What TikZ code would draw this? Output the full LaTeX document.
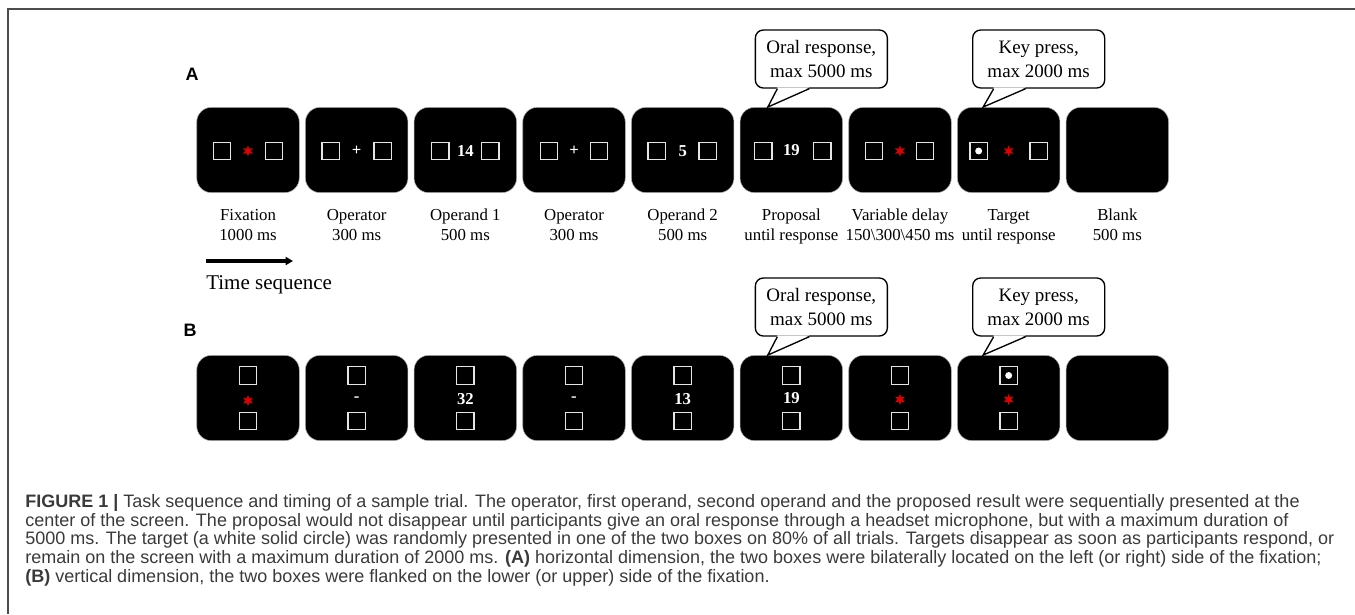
\documentclass[tikz,border=0pt]{standalone}
\usepackage{fontspec}
\setmainfont{Liberation Serif}
\setsansfont{Liberation Sans}
\usepackage{xcolor}
\usetikzlibrary{calc, positioning, shapes.geometric, arrows.meta}
\definecolor{capgray}{HTML}{3A3A3A}
\definecolor{starred}{HTML}{E00000}

\begin{document}
\begin{tikzpicture}[x=0.75pt,y=-0.75pt,node distance=81.5pt,
    screen/.style={rectangle,rounded corners=11pt,fill=black,draw=gray!60,line width=0.4pt,minimum width=76.9pt,minimum height=64pt,inner sep=0pt},
    side box/.style={rectangle,draw=gray!20,line width=0.9pt,minimum size=13pt,inner sep=0pt},
    num/.style={text=white,font=\bfseries\fontsize{12.5}{12.5}\selectfont,inner sep=0pt},
    fix star/.style={star,star points=6,star point ratio=2.3,fill=starred,minimum size=8.5pt,inner sep=0pt},
    target dot/.style={circle,fill=white,minimum size=5.2pt,inner sep=0pt},
    stage label/.style={align=center,anchor=north,inner sep=0pt,execute at begin node=\strut,font=\fontsize{12.6}{15}\selectfont},
    bubble/.style={rectangle,rounded corners=6pt,draw,fill=white,line width=1pt,minimum width=99pt,minimum height=43.5pt,inner sep=0pt,align=center,font=\fontsize{14.25}{18}\selectfont},
    panel/.style={font=\sffamily\bfseries\fontsize{13.5}{13.5}\selectfont,inner sep=0pt}]

  \useasboundingbox (0,0) rectangle (1355,614);
  \draw[gray!60!black,line width=1.1pt] (8,614) -- (8,9) -- (1355,9);

  \node[panel] (pA) at (192,74) {A};
  \node[panel] (pB) at (190,330) {B};

  % horizontal row
  \node[screen] (a1) at (248,150) {};
  \node[screen] (a2) [right of=a1] {};
  \node[screen] (a3) [right of=a2] {};
  \node[screen] (a4) [right of=a3] {};
  \node[screen] (a5) [right of=a4] {};
  \node[screen] (a6) [right of=a5] {};
  \node[screen] (a7) [right of=a6] {};
  \node[screen] (a8) [right of=a7] {};
  \node[screen] (a9) [right of=a8] {};

  \node[side box] (a1l) at ($(a1)+(-26,1)$) {};
  \node[side box] (a1r) at ($(a1)+(26,1)$) {};
  \node[fix star] (a1c) at ($(a1)+(0,1)$) {};
  \node[side box] (a2l) at ($(a2)+(-26,1)$) {};
  \node[side box] (a2r) at ($(a2)+(26,1)$) {};
  \node[num] (a2c) at ($(a2)+(0,1)$) {+};
  \node[side box] (a3l) at ($(a3)+(-25,1)$) {};
  \node[side box] (a3r) at ($(a3)+(25,1)$) {};
  \node[num] (a3c) at ($(a3)+(0,1)$) {14};
  \node[side box] (a4l) at ($(a4)+(-25,1)$) {};
  \node[side box] (a4r) at ($(a4)+(25,1)$) {};
  \node[num] (a4c) at ($(a4)+(0,1)$) {+};
  \node[side box] (a5l) at ($(a5)+(-26,1)$) {};
  \node[side box] (a5r) at ($(a5)+(25,1)$) {};
  \node[num] (a5c) at ($(a5)+(0,1)$) {5};
  \node[side box] (a6l) at ($(a6)+(-28,1)$) {};
  \node[side box] (a6r) at ($(a6)+(31,1)$) {};
  \node[num] (a6c) at ($(a6)+(0,0)$) {19};
  \node[side box] (a7l) at ($(a7)+(-26,1)$) {};
  \node[side box] (a7r) at ($(a7)+(25,1)$) {};
  \node[fix star] (a7c) at ($(a7)+(0,1)$) {};
  \node[side box] (a8l) at ($(a8)+(-30,1)$) {};
  \node[side box] (a8r) at ($(a8)+(30,1)$) {};
  \node[fix star] (a8c) at ($(a8)+(0,1)$) {};
  \node[target dot] (a8t) at (a8l) {};

  \node[stage label] (a1t) at ($(a1)+(0,59)$) {Fixation\\1000 ms};
  \node[stage label] (a2t) at ($(a2)+(0,59)$) {Operator\\300 ms};
  \node[stage label] (a3t) at ($(a3)+(0,59)$) {Operand 1\\500 ms};
  \node[stage label] (a4t) at ($(a4)+(0,59)$) {Operator\\300 ms};
  \node[stage label] (a5t) at ($(a5)+(0,59)$) {Operand 2\\500 ms};
  \node[stage label] (a6t) at ($(a6)+(0,59)$) {Proposal\\until response};
  \node[stage label] (a7t) at ($(a7)+(0,59)$) {Variable delay\\150\textbackslash300\textbackslash450 ms};
  \node[stage label] (a8t) at ($(a8)+(0,59)$) {Target\\until response};
  \node[stage label] (a9t) at ($(a9)+(0,59)$) {Blank\\500 ms};

  % speech bubbles, row A
  \node[bubble] (c1) at ($(a6)+(30,-91)$) {Oral response,\\max 5000 ms};
  \coordinate (c1tip) at ($(a6.north west)+(28,0)$);
  \fill[white] ($(c1.south)+(-44,-1.2)$) -- (c1tip) -- ($(c1.south)+(-12,-1.2)$) -- cycle;
  \draw[line width=1pt] ($(c1.south)+(-44,0)$) -- (c1tip) -- ($(c1.south)+(-12,0)$);
  \node[bubble] (c2) at ($(a8)+(30,-91)$) {Key press,\\max 2000 ms};
  \coordinate (c2tip) at ($(a8.north west)+(26,0)$);
  \fill[white] ($(c2.south)+(-45,-1.2)$) -- (c2tip) -- ($(c2.south)+(-13,-1.2)$) -- cycle;
  \draw[line width=1pt] ($(c2.south)+(-45,0)$) -- (c2tip) -- ($(c2.south)+(-13,0)$);

  % time arrow
  \coordinate (ts0) at (206,261);
  \coordinate (ts1) at (293,261);
  \draw[line width=2.4pt,-{Triangle[length=5.5pt,width=6pt]}] (ts0) -- (ts1);
  \node[anchor=west,inner sep=0pt,font=\fontsize{15.75}{18}\selectfont] (ts) at (206,285) {Time sequence};

  % vertical row
  \node[screen] (b1) at (248,398) {};
  \node[screen] (b2) [right of=b1] {};
  \node[screen] (b3) [right of=b2] {};
  \node[screen] (b4) [right of=b3] {};
  \node[screen] (b5) [right of=b4] {};
  \node[screen] (b6) [right of=b5] {};
  \node[screen] (b7) [right of=b6] {};
  \node[screen] (b8) [right of=b7] {};
  \node[screen] (b9) [right of=b8] {};

  \node[side box] (b1u) at ($(b1)+(0,-22.5)$) {};
  \node[side box] (b1d) at ($(b1)+(0,23)$) {};
  \node[fix star] (b1c) at ($(b1)+(0,2.5)$) {};
  \node[side box] (b2u) at ($(b2)+(0,-22.5)$) {};
  \node[side box] (b2d) at ($(b2)+(0,23)$) {};
  \node[num] (b2c) at ($(b2)+(0,1)$) {-};
  \node[side box] (b3u) at ($(b3)+(0,-22.5)$) {};
  \node[side box] (b3d) at ($(b3)+(0,23)$) {};
  \node[num] (b3c) at ($(b3)+(0,1)$) {32};
  \node[side box] (b4u) at ($(b4)+(0,-22.5)$) {};
  \node[side box] (b4d) at ($(b4)+(0,23)$) {};
  \node[num] (b4c) at ($(b4)+(0,1)$) {-};
  \node[side box] (b5u) at ($(b5)+(0,-22.5)$) {};
  \node[side box] (b5d) at ($(b5)+(0,23)$) {};
  \node[num] (b5c) at ($(b5)+(0,1)$) {13};
  \node[side box] (b6u) at ($(b6)+(0,-22.5)$) {};
  \node[side box] (b6d) at ($(b6)+(0,23)$) {};
  \node[num] (b6c) at ($(b6)+(0,0)$) {19};
  \node[side box] (b7u) at ($(b7)+(0,-22.5)$) {};
  \node[side box] (b7d) at ($(b7)+(0,23)$) {};
  \node[fix star] (b7c) at ($(b7)+(0,1.5)$) {};
  \node[side box] (b8u) at ($(b8)+(0,-22.5)$) {};
  \node[side box] (b8d) at ($(b8)+(0,23)$) {};
  \node[fix star] (b8c) at ($(b8)+(0,1.5)$) {};
  \node[target dot] (b8t) at (b8u) {};

  % speech bubbles, row B
  \node[bubble] (d1) at ($(b6)+(30,-91)$) {Oral response,\\max 5000 ms};
  \coordinate (d1tip) at ($(b6.north west)+(28,0)$);
  \fill[white] ($(d1.south)+(-44,-1.2)$) -- (d1tip) -- ($(d1.south)+(-12,-1.2)$) -- cycle;
  \draw[line width=1pt] ($(d1.south)+(-44,0)$) -- (d1tip) -- ($(d1.south)+(-12,0)$);
  \node[bubble] (d2) at ($(b8)+(30,-91)$) {Key press,\\max 2000 ms};
  \coordinate (d2tip) at ($(b8.north west)+(26,0)$);
  \fill[white] ($(d2.south)+(-45,-1.2)$) -- (d2tip) -- ($(d2.south)+(-13,-1.2)$) -- cycle;
  \draw[line width=1pt] ($(d2.south)+(-45,0)$) -- (d2tip) -- ($(d2.south)+(-13,0)$);

  % caption
  \node[anchor=north west,inner sep=0pt,align=left,text=capgray,font=\sffamily\fontsize{13.5}{14.1}\selectfont] (cap) at (25,494)
    {\textbf{FIGURE 1 |} Task sequence and timing of a sample trial. The operator, first operand, second operand and the proposed result were sequentially presented at the\\
     center of the screen. The proposal would not disappear until participants give an oral response through a headset microphone, but with a maximum duration of\\
     5000 ms. The target (a white solid circle) was randomly presented in one of the two boxes on 80\% of all trials. Targets disappear as soon as participants respond, or\\
     remain on the screen with a maximum duration of 2000 ms. \textbf{(A)} horizontal dimension, the two boxes were bilaterally located on the left (or right) side of the fixation;\\
     \textbf{(B)} vertical dimension, the two boxes were flanked on the lower (or upper) side of the fixation.};
\end{tikzpicture}
\end{document}
